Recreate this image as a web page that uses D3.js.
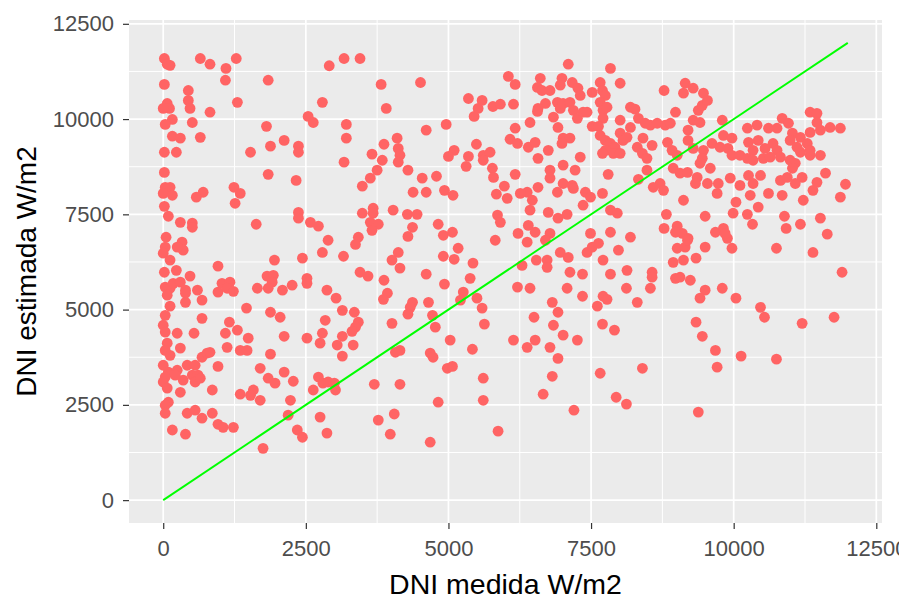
<!DOCTYPE html>
<html>
<head>
<meta charset="utf-8">
<script src="https://cdn.jsdelivr.net/npm/d3@7"></script>
<style>
  html, body { margin: 0; padding: 0; background: #ffffff; }
  svg { display: block; }
  text { font-family: "Liberation Sans", Arial, Helvetica, sans-serif; }
</style>
</head>
<body>
<script>
// ---------------- DATA ----------------
const xTicks = [0, 2500, 5000, 7500, 10000, 12500];
const yTicks = [0, 2500, 5000, 7500, 10000, 12500];
const xTitle = "DNI medida W/m2";
const yTitle = "DNI estimada W/m2";
const referenciaX = [0, 12000];
const referenciaY = [0, 12000];

// [DNI medida, DNI estimada]
const grupoA = [[20,11590],[70,11440],[120,11410],[650,11590],[820,11440],[1100,11330],[1280,11590],[2910,11400],[20,10910],[1090,11020],[1840,11020],[440,10750],[440,10490],[470,10280],[70,10410],[110,10280],[0,10280],[160,9990],[35,9860],[510,9910],[820,10180],[1300,10440],[2790,10440],[2540,10070],[2630,9910],[1810,9810],[160,9550],[300,9500],[650,9520],[2120,9440],[1880,9290],[2370,9290],[2370,9130],[20,9130],[230,9130],[1530,9130],[20,8600],[1840,8550],[2330,8390],[35,8210],[120,8210],[0,8050],[160,8000],[700,8080],[580,7950],[1240,8210],[1350,8050]];
const grupoB = [[3170,11590],[3450,11590],[3820,10910],[4510,10960],[3910,10280],[6050,11120],[6170,10910],[5350,10540],[5590,10490],[5520,10280],[5450,10070],[5780,10330],[5910,10390],[6140,10390],[3210,9860],[3210,9500],[3170,8870],[4610,9710],[4960,9860],[6170,9760],[6080,9470],[6210,9360],[3870,9340],[4100,9500],[4120,9230],[4150,9050],[4120,8870],[3660,9080],[3840,8920],[3750,8660],[3630,8450],[3490,8240],[4290,8660],[4540,8450],[4790,8500],[4380,8080],[4610,8080],[4930,8130],[5080,8000],[5100,9180],[5000,9020],[5350,9020],[5310,8760],[5490,9340],[5610,9050],[5730,9130],[5610,8920],[5770,8710],[5790,8470],[5980,8240],[5840,8030],[6030,7920],[6170,8550]];
const grupoC = [[7100,11440],[7840,11330],[6610,11070],[6560,10830],[6640,10750],[6780,10750],[6990,11070],[6960,10890],[7170,10960],[7270,10810],[7310,10620],[7660,10960],[7700,10750],[7750,10620],[7520,10700],[8010,10940],[8780,10750],[9150,10940],[9290,10810],[9120,10680],[9470,10680],[6700,10410],[6570,10280],[6560,10200],[6910,10440],[6960,10280],[6840,10050],[7010,10410],[7130,10440],[7190,10230],[7260,10020],[7360,10180],[7430,10180],[7520,9810],[7660,10440],[7710,10230],[7780,10310],[6430,9910],[6920,9780],[7710,10020],[7630,9810],[8010,9970],[8190,10310],[8270,10260],[8330,10020],[8450,9890],[8540,9840],[8660,9890],[8800,9840],[8890,9890],[8190,9780],[8980,10180],[9200,9710],[9290,9970],[9410,9910],[9380,10230],[9450,10360],[9540,10490],[6400,9260],[6520,9390],[6570,8970],[6750,9180],[7010,9500],[7130,9500],[6990,9360],[7310,9000],[7660,9570],[7750,9440],[7840,9360],[7920,9260],[8010,9630],[8060,9440],[8130,9520],[7750,9180],[7890,9100],[8010,9100],[7700,9100],[8410,9500],[8570,9310],[8310,9260],[8400,9100],[8480,8970],[8840,9390],[8920,9180],[9010,9050],[9200,9440],[9290,9230],[9470,9180],[9450,8970],[9410,8840],[6780,8660],[6780,8450],[7010,8790],[7220,8660],[7800,8550],[8480,8660],[8710,8310],[8590,8210],[8770,8130],[8940,8710],[9060,8580],[9190,8600],[9360,8470],[9330,8310],[9540,8310],[7010,8310],[7170,8260],[7190,8180],[6570,8210],[6380,8080],[6260,8050],[6910,8080],[7400,8080],[7490,7950],[7700,8050],[8330,8420],[9120,7870]];
const grupoD = [[9800,9970],[11340,10180],[11460,10150],[11460,9910],[10850,10020],[10960,9890],[10240,9760],[10410,9840],[10610,9760],[10760,9760],[9820,9570],[9970,9500],[11030,9630],[11170,9520],[11340,9650],[11520,9710],[11690,9780],[11870,9760],[10260,9390],[10430,9440],[10550,9230],[10340,9180],[10690,9360],[10760,9180],[9620,9360],[9760,9260],[9900,9230],[9970,9050],[10110,9050],[10240,8970],[10340,8920],[10520,8970],[10640,9000],[10820,9000],[10990,8920],[11080,8840],[11170,9130],[11340,9050],[11520,9050],[10990,9440],[11110,9260],[11290,9360],[11340,9180],[9590,8710],[9730,8310],[9940,8450],[10110,8260],[10260,8520],[10340,8310],[10470,8520],[10290,8000],[10610,8050],[10820,8390],[10940,8470],[11030,8710],[11080,8310],[10850,8000],[11200,8470],[11460,8340],[11610,8580],[11390,8130],[11960,8290],[11870,7950],[9710,8050]];
const grupoE = [[20,7710],[90,7450],[1260,7790],[300,7290],[510,7270],[510,7160],[1630,7240],[2370,7550],[2370,7400],[2580,7290],[2720,7190],[2890,6820],[50,6900],[35,6640],[0,6480],[120,6300],[330,6770],[350,6560],[245,6640],[2790,6500],[1950,6300],[2440,6350],[20,5980],[230,6030],[470,5880],[960,6140],[35,5590],[120,5560],[175,5690],[300,5720],[390,5510],[70,5380],[600,5510],[390,5430],[1030,5690],[1170,5720],[960,5460],[1120,5560],[1230,5480],[1820,5880],[1930,5900],[1910,5720],[1650,5560],[1840,5560],[2090,5510],[2260,5640],[2520,5820],[2520,5690],[2870,5510],[120,5090],[390,5190],[680,5250],[1460,5040],[1880,4930],[2050,4800],[35,4850],[0,4590],[35,4410],[70,4120],[245,4380],[680,4770],[540,4380],[1160,4670],[1300,4460],[1090,4380],[1490,4250],[2120,4300],[2520,4250],[2790,4380],[2750,4120],[2840,4720],[300,3990],[1120,4010],[1350,3930],[1470,3930]];
const grupoF = [[3490,7530],[3680,7660],[3680,7530],[4030,7610],[4280,7500],[4450,7500],[3630,7290],[3770,7240],[3660,7080],[4820,7240],[4370,7160],[4290,6920],[4910,6950],[5070,7030],[5170,6610],[4910,6400],[5100,6320],[5860,7480],[5910,7290],[5820,6820],[6220,7000],[3420,6900],[3370,6710],[3160,6400],[4120,6500],[4010,6300],[4150,6090],[5430,6220],[3450,5980],[3590,5880],[3870,5770],[4610,5930],[4930,5670],[5380,5820],[5260,5460],[5210,5250],[5500,5300],[5590,5040],[6210,5590],[3030,5300],[3930,5430],[3860,5270],[4370,5190],[4330,5060],[4290,4880],[4650,5190],[3140,4980],[3350,4930],[3420,4670],[3370,4540],[3310,4430],[4010,4640],[4720,4850],[4770,4540],[5630,4620],[3140,4300],[3050,4070],[3330,4070],[5030,4200],[5420,3960],[6140,4200]];
const grupoG = [[6470,7870],[6430,7610],[6750,7550],[6920,7400],[7080,7500],[7360,7740],[7840,7610],[7960,7530],[8820,7500],[9500,7450],[6400,7210],[6520,7030],[6380,6770],[6780,7000],[6700,6820],[7490,7000],[7840,7030],[8190,6900],[6960,6500],[7100,6370],[7430,6500],[7520,6640],[7630,6740],[7980,6560],[8780,7130],[9010,7190],[9100,7000],[8980,7030],[9200,6870],[9010,6610],[9150,6640],[9500,6640],[9190,6820],[6540,6300],[6730,6300],[6730,6110],[6290,6160],[7710,6300],[8940,6240],[9120,6300],[9340,6350],[7130,5980],[7350,5930],[7840,5930],[8130,6030],[8570,5980],[8570,5850],[8980,5820],[9060,5850],[9240,5770],[6430,5560],[7080,5560],[8120,5560],[8540,5560],[9500,5510],[9410,5300],[7350,5350],[7710,5350],[7780,5270],[7610,5090],[8310,5190],[6820,5190],[6920,4930],[6500,4800],[6840,4590],[7700,4620],[7910,4460],[7010,4330],[7260,4200],[6520,4200],[6380,4010],[6780,4010],[9340,4670],[9450,4300]];
const grupoH = [[10040,7820],[9990,7530],[10240,7500],[10430,7690],[10330,7240],[11220,7870],[10890,7450],[10920,7130],[11170,7240],[11520,7400],[11640,6980],[9680,7030],[9820,7130],[9890,6870],[9850,7000],[9970,6610],[10750,6610],[11390,6500],[11900,5980],[9800,5560],[10040,5300],[10470,5060],[10540,4800],[11200,4640],[11760,4800],[9680,3930],[9710,3490],[10130,3780],[10750,3700]];
const grupoI = [[35,3930],[120,3800],[680,3750],[770,3860],[820,3880],[1880,3830],[0,3540],[90,3360],[245,3410],[420,3540],[560,3540],[35,3230],[0,3100],[210,3280],[350,3150],[510,3280],[610,3280],[560,3100],[650,3200],[960,3510],[70,2940],[300,2830],[860,2890],[1700,3460],[1840,3200],[1960,3070],[2120,3360],[2280,3120],[1350,2780],[1580,2890],[1530,2750],[1700,2620],[2720,3230],[2630,2890],[2800,3070],[2890,3100],[2230,2620],[90,2570],[35,2490],[35,2280],[420,2280],[560,2360],[680,2150],[860,2280],[960,1990],[1050,1910],[1230,1910],[2190,2230],[2750,2180],[160,1840],[390,1730],[2350,1840],[2440,1650],[2870,1760],[1750,1360]];
const grupoJ = [[3140,3780],[4070,3880],[4150,3930],[4680,3860],[4730,3750],[4980,3460],[5070,3510],[5610,3200],[3000,3070],[3020,2890],[3700,3040],[4150,3040],[4820,2570],[5610,2620],[3770,2100],[4050,2260],[3980,1730],[4680,1520],[5870,1810]];
const grupoK = [[6920,3720],[6820,3250],[6660,2780],[7200,2360],[7660,3330],[8400,3460],[7940,2700],[8120,2520],[9380,2310]];

const puntos = [].concat(grupoA, grupoB, grupoC, grupoD, grupoE, grupoF, grupoG, grupoH, grupoI, grupoJ, grupoK);

// ---------------- LAYOUT ----------------
const W = 899, H = 599;
const panel = { left: 129, right: 882, top: 20, bottom: 523 };
const domainX = [-600, 12600];
const domainY = [-600, 12600];

const svg = d3.select("body").append("svg")
  .attr("width", W).attr("height", H)
  .attr("viewBox", `0 0 ${W} ${H}`);

svg.append("rect").attr("x", 0).attr("y", 0).attr("width", W).attr("height", H).attr("fill", "#ffffff");

const x = d3.scaleLinear().domain(domainX).range([panel.left, panel.right]);
const y = d3.scaleLinear().domain(domainY).range([panel.bottom, panel.top]);

// panel background
svg.append("rect")
  .attr("x", panel.left).attr("y", panel.top)
  .attr("width", panel.right - panel.left)
  .attr("height", panel.bottom - panel.top)
  .attr("fill", "#EBEBEB");

// minor grid
const minorX = d3.range(0, xTicks.length - 1).map(i => (xTicks[i] + xTicks[i + 1]) / 2);
const minorY = d3.range(0, yTicks.length - 1).map(i => (yTicks[i] + yTicks[i + 1]) / 2);
const grid = svg.append("g");
grid.selectAll("line.minx").data(minorX).enter().append("line")
  .attr("x1", d => x(d)).attr("x2", d => x(d))
  .attr("y1", panel.top).attr("y2", panel.bottom)
  .attr("stroke", "#ffffff").attr("stroke-width", 1);
grid.selectAll("line.miny").data(minorY).enter().append("line")
  .attr("y1", d => y(d)).attr("y2", d => y(d))
  .attr("x1", panel.left).attr("x2", panel.right)
  .attr("stroke", "#ffffff").attr("stroke-width", 1);
// major grid
grid.selectAll("line.majx").data(xTicks).enter().append("line")
  .attr("x1", d => x(d)).attr("x2", d => x(d))
  .attr("y1", panel.top).attr("y2", panel.bottom)
  .attr("stroke", "#ffffff").attr("stroke-width", 1.7);
grid.selectAll("line.majy").data(yTicks).enter().append("line")
  .attr("y1", d => y(d)).attr("y2", d => y(d))
  .attr("x1", panel.left).attr("x2", panel.right)
  .attr("stroke", "#ffffff").attr("stroke-width", 1.7);

// points
svg.append("g").selectAll("circle").data(puntos).enter().append("circle")
  .attr("cx", d => x(d[0]))
  .attr("cy", d => y(d[1]))
  .attr("r", 5.4)
  .attr("fill", "#FF6464");

// reference line y = x
const linea = d3.line().x(d => x(d[0])).y(d => y(d[1]));
svg.append("path")
  .datum(referenciaX.map((v, i) => [v, referenciaY[i]]))
  .attr("d", linea)
  .attr("fill", "none")
  .attr("stroke", "#00FF00")
  .attr("stroke-width", 1.9);

// axes
const tickColor = "#333333";
const labelColor = "#4D4D4D";
const fs = 22;

const xAxis = d3.axisBottom(x).tickValues(xTicks).tickSize(6).tickPadding(11).tickFormat(d3.format("d"));
const gx = svg.append("g").attr("transform", `translate(0,${panel.bottom})`).call(xAxis);
gx.select(".domain").remove();
gx.selectAll(".tick line").attr("stroke", tickColor).attr("stroke-width", 1.2);
gx.selectAll(".tick text").attr("fill", labelColor).attr("font-size", fs)
  .attr("font-family", "Liberation Sans, Arial, Helvetica, sans-serif");

const yAxis = d3.axisLeft(y).tickValues(yTicks).tickSize(6).tickPadding(9).tickFormat(d3.format("d"));
const gy = svg.append("g").attr("transform", `translate(${panel.left},0)`).call(yAxis);
gy.select(".domain").remove();
gy.selectAll(".tick line").attr("stroke", tickColor).attr("stroke-width", 1.2);
gy.selectAll(".tick text").attr("fill", labelColor).attr("font-size", fs)
  .attr("font-family", "Liberation Sans, Arial, Helvetica, sans-serif");

// titles
svg.append("text")
  .attr("x", (panel.left + panel.right) / 2)
  .attr("y", 594)
  .attr("text-anchor", "middle")
  .attr("font-size", 28.5)
  .attr("fill", "#000000")
  .text(xTitle);

svg.append("text")
  .attr("transform", `translate(36,${(panel.top + panel.bottom) / 2}) rotate(-90)`)
  .attr("text-anchor", "middle")
  .attr("font-size", 28)
  .attr("fill", "#000000")
  .text(yTitle);
</script>
</body>
</html>
